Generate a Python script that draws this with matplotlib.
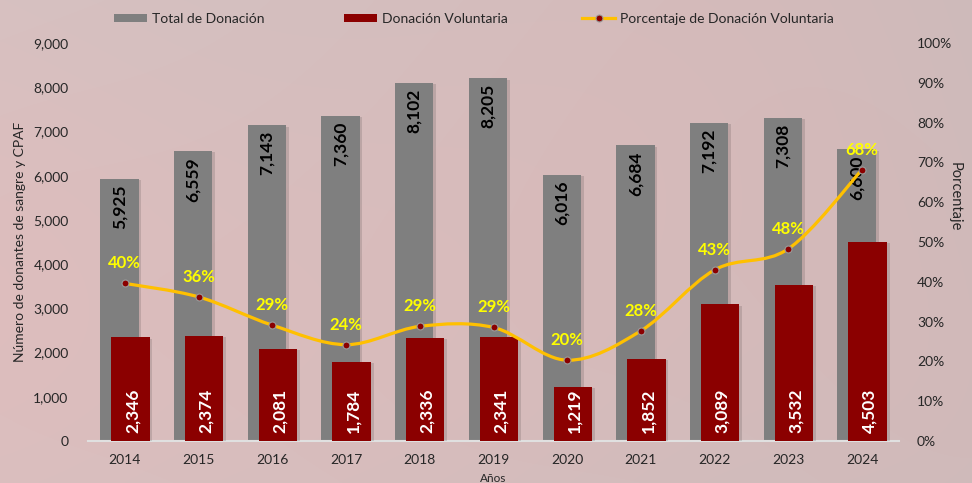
import numpy as np
import matplotlib
matplotlib.use("Agg")
import matplotlib.pyplot as plt
from matplotlib.path import Path
from matplotlib.patches import PathPatch, Patch
from matplotlib.lines import Line2D
import matplotlib.patheffects as pe
from matplotlib.ticker import FuncFormatter, MultipleLocator

plt.rcParams['font.family'] = ['Lato', 'DejaVu Sans']

# ---------------- data ----------------
years = ['2014', '2015', '2016', '2017', '2018', '2019', '2020', '2021', '2022', '2023', '2024']
total = [5925, 6559, 7143, 7360, 8102, 8205, 6016, 6684, 7192, 7308, 6600]
voluntaria = [2346, 2374, 2081, 1784, 2336, 2341, 1219, 1852, 3089, 3532, 4503]
porcentaje = [0.396, 0.362, 0.291, 0.242, 0.288, 0.2853, 0.203, 0.277, 0.430, 0.483, 0.682]

legend_labels = ['Total de Donación', 'Donación Voluntaria', 'Porcentaje de Donación Voluntaria']
ylabel_left = 'Número de donantes de sangre y CPAF'
ylabel_right = 'Porcentaje'
xlabel = 'Años'

# ---------------- style ----------------
GRAY = '#7f7f7f'
RED = '#8b0000'
GOLD = '#ffc000'
TXT = '#262626'

W, H = 972, 483
fig = plt.figure(figsize=(W / 100, H / 100), dpi=100)

# background (soft pinkish-gray)
bg = fig.add_axes([0, 0, 1, 1], zorder=-10)
yy, xx = np.mgrid[0:H, 0:W]
base = np.zeros((H, W, 3))
t = xx / W
base[..., 0] = 212 - 12 * t
base[..., 1] = 194 - 4 * t
base[..., 2] = 194 - 4 * t
for cx, cy, r, a in [(760, 60, 260, 8), (420, 360, 230, 7), (-40, 300, 200, 8), (980, 420, 180, 6)]:
    d = np.exp(-((xx - cx) ** 2 + (yy - cy) ** 2) / (2 * r * r))
    base[..., 0] += a * d
    base[..., 1] -= a * 0.5 * d
    base[..., 2] -= a * 0.5 * d
bg.imshow(np.clip(base, 0, 255).astype(np.uint8), aspect='auto', extent=[0, 1, 0, 1])
bg.set_axis_off()

L, R, B, T = 88 / W, 899 / W, 1 - 441 / H, 1 - 43 / H
ax = fig.add_axes([L, B, R - L, T - B])
ax.patch.set_alpha(0)

x = np.arange(len(years))
bw = 0.52
off = 0.075
sh = [pe.SimplePatchShadow(offset=(2, -1), alpha=0.12, shadow_rgbFace='#000000'), pe.Normal()]
b1 = ax.bar(x - off, total, width=bw, color=GRAY, zorder=2, path_effects=sh)
b2 = ax.bar(x + off, voluntaria, width=bw, color=RED, zorder=3, path_effects=sh)

ax.set_xlim(-0.5, len(years) - 0.5)
ax.set_ylim(0, 9000)
ax.yaxis.set_major_locator(MultipleLocator(1000))
ax.yaxis.set_major_formatter(FuncFormatter(lambda v, p: f'{int(v):,}'))
ax.set_xticks(x)
ax.set_xticklabels(years)
for s in ['top', 'left', 'right']:
    ax.spines[s].set_visible(False)
ax.spines['bottom'].set_color('#e0e0e0')
ax.spines['bottom'].set_linewidth(1.5)
ax.tick_params(axis='both', length=0, labelsize=10, colors=TXT)
ax.tick_params(axis='x', pad=9)
ax.tick_params(axis='y', pad=14)

# bar labels
for xi, v in zip(x, total):
    ax.annotate(f'{v:,}', (xi - off, v), xytext=(0, -6), textcoords='offset pixels',
                rotation=90, ha='center', va='top', fontsize=12.5, fontweight='bold',
                color='#000000', zorder=6)
for xi, v in zip(x, voluntaria):
    ax.annotate(f'{v:,}', (xi + off, 0), xytext=(2, 8), textcoords='offset pixels',
                rotation=90, ha='center', va='bottom', fontsize=12.5, fontweight='bold',
                color='white', zorder=6)

ax.set_ylabel(ylabel_left, fontsize=10, color=TXT)
ax.yaxis.set_label_coords(-0.077, 0.5)
fig.text(493 / W, 1 - 478 / H, xlabel, ha='center', va='center', fontsize=8.5, color=TXT)

# secondary axis
ax2 = ax.twinx()
ax2.set_ylim(0, 1.0)
ax2.yaxis.set_major_locator(MultipleLocator(0.1))
ax2.yaxis.set_major_formatter(FuncFormatter(lambda v, p: f'{v * 100:.0f}%'))
for s in ['top', 'left', 'right', 'bottom']:
    ax2.spines[s].set_visible(False)
ax2.tick_params(axis='y', length=0, labelsize=10, colors=TXT, pad=13)
fig.text(955 / W, 1 - 197 / H, ylabel_right, rotation=-90, ha='center', va='center',
         fontsize=10.5, color=TXT)

# smoothed line (Catmull-Rom as cubic Bezier)
pts = np.column_stack([x, porcentaje]).astype(float)
n = len(pts)
verts = [pts[0]]
codes = [Path.MOVETO]
for i in range(n - 1):
    p0 = pts[i - 1] if i > 0 else pts[i]
    p1 = pts[i]
    p2 = pts[i + 1]
    p3 = pts[i + 2] if i + 2 < n else pts[i + 1]
    c1 = p1 + (p2 - p0) / 6.0
    c2 = p2 - (p3 - p1) / 6.0
    verts += [c1, c2, p2]
    codes += [Path.CURVE4] * 3
ax2.add_patch(PathPatch(Path(verts, codes), facecolor='none', edgecolor=GOLD, lw=2.3,
                        zorder=4, capstyle='round'))
ax2.plot(x, porcentaje, linestyle='none', marker='o', ms=5, mfc=RED, mec='#9a9a9a',
         mew=0.8, zorder=5)
for xi, p in zip(x, porcentaje):
    ax2.annotate(f'{p * 100:.0f}%', (xi, p), xytext=(0, 20), textcoords='offset pixels',
                 ha='center', va='center', fontsize=12, fontweight='bold',
                 color='#ffff00', zorder=7)

# legend (three separate entries placed like the original)
h1 = Patch(facecolor=GRAY)
h2 = Patch(facecolor=RED)
h3 = Line2D([], [], color=GOLD, lw=2.3, marker='o', ms=5, mfc=RED, mec='#9a9a9a', mew=0.8)
for h, lab, xpos in [(h1, legend_labels[0], 114), (h2, legend_labels[1], 344), (h3, legend_labels[2], 582)]:
    lg = fig.legend([h], [lab], loc='center left', bbox_to_anchor=(xpos / W, 1 - 19 / H),
                    frameon=False, fontsize=10, handlelength=2.4, handleheight=0.55,
                    handletextpad=0.3, borderpad=0, borderaxespad=0, labelcolor=TXT)

fig.savefig('out.png', dpi=100)
